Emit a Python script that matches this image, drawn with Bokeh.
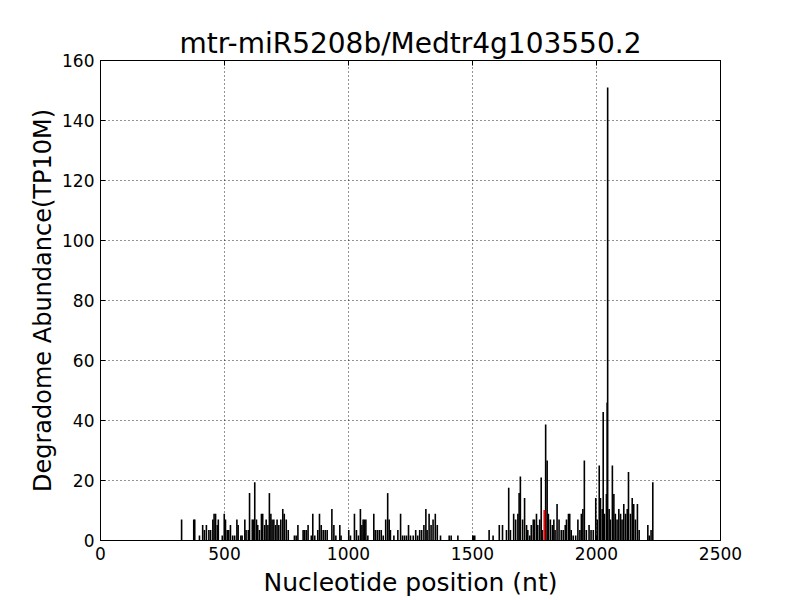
from bokeh.plotting import figure
from bokeh.models import LinearAxis, FixedTicker, Range1d, CustomJSTickFormatter
from bokeh.embed import file_html
from bokeh.resources import INLINE

title_text = "mtr-miR5208b/Medtr4g103550.2"
x_label = "Nucleotide position (nt)"
y_label = "Degradome Abundance(TP10M)"
x_ticks = [0, 500, 1000, 1500, 2000, 2500]
y_ticks = [0, 20, 40, 60, 80, 100, 120, 140, 160]

positions = [327, 376, 380, 399, 412, 419, 427, 437, 444, 453, 458, 464, 471, 475, 491, 499, 504, 511, 517,
             524, 533, 541, 550, 555, 566, 571, 582, 587, 596, 601, 612, 617, 622, 629, 634, 641, 649, 654,
             662, 668, 675, 681, 687, 692, 699, 706, 712, 719, 727, 735, 741, 749, 757, 782, 789, 796, 817,
             823, 830, 837, 850, 856, 864, 876, 883, 890, 898, 906, 914, 933, 941, 949, 965, 970, 1001, 1008,
             1024, 1032, 1040, 1048, 1054, 1059, 1064, 1070, 1078, 1102, 1108, 1116, 1124, 1132, 1140, 1150,
             1158, 1164, 1169, 1183, 1199, 1210, 1218, 1226, 1234, 1242, 1250, 1261, 1271, 1279, 1287, 1295,
             1304, 1312, 1317, 1325, 1333, 1341, 1350, 1358, 1371, 1406, 1414, 1441, 1503, 1509, 1567, 1583,
             1608, 1621, 1637, 1646, 1653, 1666, 1674, 1683, 1688, 1693, 1702, 1710, 1718, 1723, 1731, 1737,
             1745, 1750, 1758, 1763, 1771, 1777, 1782, 1795, 1801, 1806, 1814, 1822, 1828, 1833, 1841, 1849,
             1858, 1866, 1874, 1879, 1887, 1892, 1898, 1906, 1916, 1925, 1933, 1939, 1945, 1951, 1959, 1970,
             1978, 1987, 1997, 2003, 2011, 2016, 2023, 2027, 2032, 2040, 2043, 2045, 2051, 2056, 2064, 2070,
             2076, 2083, 2090, 2097, 2103, 2110, 2117, 2124, 2129, 2137, 2144, 2150, 2157, 2165, 2172, 2207,
             2213, 2220, 2227]
abundance = [7.0, 7.0, 7.0, 1.7, 5.2, 3.5, 5.2, 3.5, 3.5, 7.0, 8.9, 8.9, 5.2, 7.0, 1.7, 8.9, 7.0, 3.5, 3.5,
             5.2, 1.7, 1.7, 7.0, 5.2, 1.7, 1.7, 7.0, 3.5, 3.5, 15.8, 7.0, 7.0, 19.4, 7.0, 5.2, 3.5, 8.9, 8.9,
             5.2, 7.0, 5.2, 15.8, 8.9, 7.0, 7.0, 5.2, 7.0, 5.2, 7.0, 10.5, 8.9, 7.0, 3.5, 1.7, 1.7, 5.2, 3.5,
             3.5, 3.5, 5.2, 1.7, 8.9, 1.7, 3.5, 8.9, 5.2, 3.5, 3.5, 3.5, 10.5, 5.2, 1.7, 5.2, 1.7, 3.5, 1.7,
             8.9, 3.5, 1.7, 10.5, 5.2, 7.0, 7.0, 7.0, 1.7, 8.9, 3.5, 3.5, 3.5, 3.5, 1.7, 7.0,
             15.8, 7.0, 3.5, 1.7, 3.5, 8.9, 1.7, 1.7, 1.7, 5.2, 1.7, 1.7, 3.5, 1.7, 3.5, 3.5,
             5.2, 10.5, 3.5, 8.9, 5.2, 7.0, 8.9, 5.2, 1.7, 1.7, 1.7, 1.7, 1.7, 1.7, 3.5, 1.7,
             5.2, 5.2, 3.5, 17.6, 3.5, 8.9, 7.0, 8.9, 15.8, 21.3, 7.0, 14.2, 5.2, 3.5, 1.7, 5.2,
             7.0, 7.0, 8.9, 5.2, 7.0, 21.0, 3.5, 38.7, 26.7, 8.9, 7.0, 5.2, 7.0, 3.5, 12.2, 7.0,
             3.5, 3.5, 5.2, 7.0, 8.9, 8.9, 3.5, 1.7, 1.7, 7.0, 3.5, 8.9, 10.5, 26.7, 3.5, 5.2,
             3.5, 3.5, 14.2, 7.0, 25.0, 14.2, 10.5, 42.8, 8.9, 15.5, 46.0, 151.0, 10.5, 7.0, 25.0, 15.5,
             8.9, 7.0, 10.5, 8.9, 7.0, 12.2, 8.9, 10.5, 22.8, 8.9, 14.2, 12.2, 7.0, 12.2, 3.5, 5.2,
             1.7, 3.5, 19.4]
target_position = [1790]
target_abundance = [10.2]

font = "DejaVu Sans"

p = figure(width=800, height=596, output_backend="svg", toolbar_location=None,
           x_range=Range1d(0, 2500), y_range=Range1d(0, 160),
           min_border_left=100, min_border_right=80, min_border_top=60, min_border_bottom=56,
           frame_width=620, frame_height=480)

p.title.text = title_text
p.title.align = "center"
p.title.text_font = font
p.title.text_font_size = "28px"
p.title.text_font_style = "normal"
p.title.text_color = "black"
p.title.standoff = 2

p.segment(x0=positions, y0=[0] * len(positions), x1=positions, y1=abundance,
          line_color="black", line_width=1.6)
p.segment(x0=target_position, y0=[0], x1=target_position, y1=target_abundance,
          line_color="red", line_width=2)

for ax, ticks in ((p.xaxis[0], x_ticks), (p.yaxis[0], y_ticks)):
    ax.ticker = FixedTicker(ticks=ticks)
    ax.major_label_text_font = font
    ax.major_label_text_font_size = "17px"
    ax.major_label_text_color = "black"
    ax.axis_label_text_font = font
    ax.axis_label_text_font_style = "normal"
    ax.axis_label_text_color = "black"
    ax.major_tick_in = 5
    ax.major_tick_out = 0
    ax.major_tick_line_color = "black"
    ax.minor_tick_line_color = None
    ax.axis_line_color = "black"
    ax.major_label_standoff = 6

p.xaxis.axis_label = x_label
p.yaxis.axis_label = y_label
p.xaxis.axis_label_text_font_size = "25px"
p.yaxis.axis_label_text_font_size = "24px"
p.xaxis.axis_label_standoff = 5
p.yaxis.axis_label_standoff = 2

blank = CustomJSTickFormatter(code="return ''")
top_ax = LinearAxis(ticker=FixedTicker(ticks=x_ticks), formatter=blank, major_label_text_font_size="1px",
                    major_label_standoff=0, major_tick_in=5, major_tick_out=0,
                    minor_tick_line_color=None, major_tick_line_color="black", axis_line_color="black")
right_ax = LinearAxis(ticker=FixedTicker(ticks=y_ticks), formatter=blank, major_label_text_font_size="1px",
                      major_label_standoff=0, major_tick_in=5, major_tick_out=0,
                      minor_tick_line_color=None, major_tick_line_color="black", axis_line_color="black")
p.add_layout(top_ax, "above")
p.add_layout(right_ax, "right")

p.xgrid.ticker = FixedTicker(ticks=x_ticks)
p.ygrid.ticker = FixedTicker(ticks=y_ticks)
for g in (p.xgrid[0], p.ygrid[0]):
    g.grid_line_color = "black"
    g.grid_line_dash = "1 3"
    g.grid_line_width = 1
    g.grid_line_alpha = 0.85

p.outline_line_color = "black"
p.outline_line_width = 1
p.background_fill_color = "white"
p.border_fill_color = "white"

open("out.html", "w").write(file_html(p, INLINE))
